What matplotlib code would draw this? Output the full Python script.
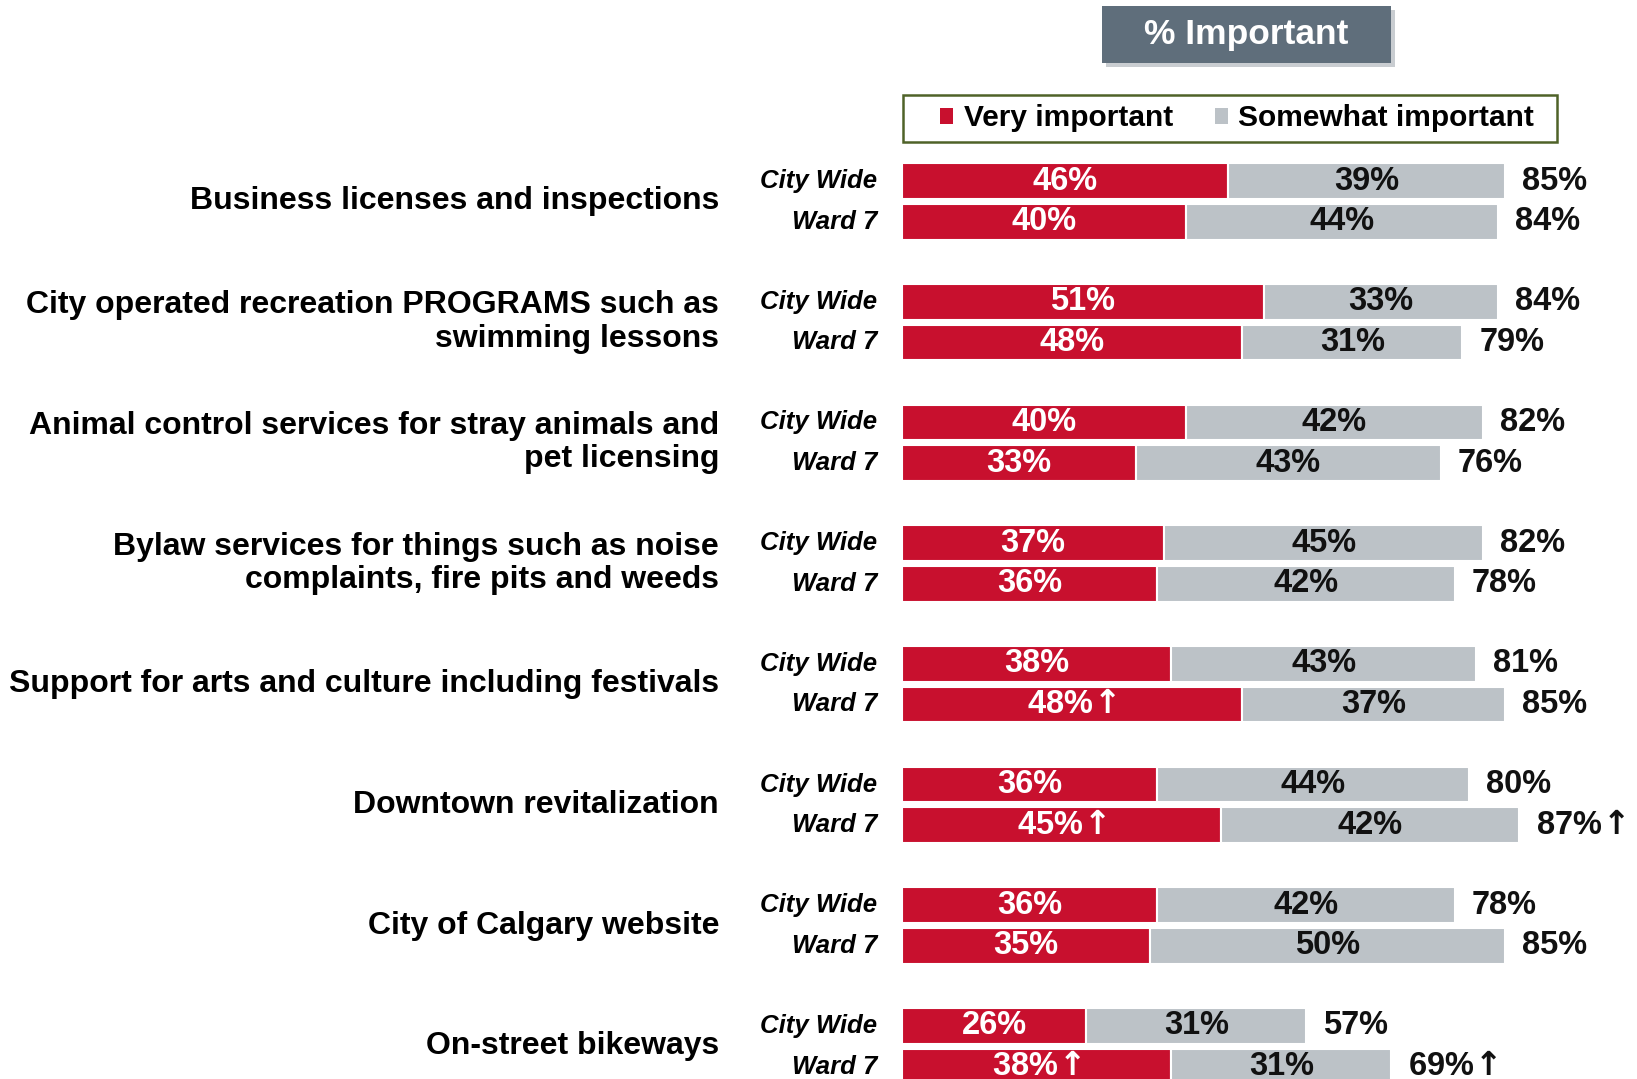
import matplotlib.pyplot as plt
from matplotlib.patches import FancyBboxPatch, Patch, Rectangle

plt.rcParams['font.family'] = ['Liberation Sans', 'DejaVu Sans']

# DATA
categories = [
    'Business licenses and inspections',
    'City operated recreation PROGRAMS such as\nswimming lessons',
    'Animal control services for stray animals and\npet licensing',
    'Bylaw services for things such as noise\ncomplaints, fire pits and weeds',
    'Support for arts and culture including festivals',
    'Downtown revitalization',
    'City of Calgary website',
    'On-street bikeways',
]
city_very = [46, 51, 40, 37, 38, 36, 36, 26]
city_some = [39, 33, 42, 45, 43, 44, 42, 31]
city_total = [85, 84, 82, 82, 81, 80, 78, 57]
ward_very = [40, 48, 33, 36, 48, 45, 35, 38]
ward_some = [44, 31, 43, 42, 37, 42, 50, 31]
ward_total = [84, 79, 76, 78, 85, 87, 85, 69]
ward_very_up = [False, False, False, False, True, True, False, True]
ward_total_up = [False, False, False, False, False, True, False, True]
row_names = ['City Wide', 'Ward 7']

RED = '#C8102E'
GRAY = '#BCC2C7'
UP = r'$\!{\mathbf{\uparrow}}$'

W, H = 1637, 1079
fig = plt.figure(figsize=(W / 100, H / 100), dpi=100)

# bars axes: x in percent, 100% ~ 709 px starting at x=902
ax = fig.add_axes([902 / W, 0, 709 / W, 1])
ax.set_xlim(0, 100)
ax.set_ylim(7.44, -1.5)
ax.axis('off')

off = 0.337   # gap between City Wide and Ward 7 rows
bh = 0.295
vsize = 23.5

rows = [
    (0.0, city_very, city_some, city_total, [False] * 8, [False] * 8),
    (off, ward_very, ward_some, ward_total, ward_very_up, ward_total_up),
]
for dy, very, some, total, vup, tup in rows:
    ys = [i + dy for i in range(len(categories))]
    ax.barh(ys, very, height=bh, color=RED, edgecolor='white', linewidth=1.5)
    ax.barh(ys, some, left=very, height=bh, color=GRAY, edgecolor='white', linewidth=1.5)
    for y, v, s, t, a, b in zip(ys, very, some, total, vup, tup):
        ax.text(v / 2, y, f'{v}%' + (UP if a else ''), ha='center', va='center',
                color='white', fontsize=vsize, fontweight='bold')
        ax.text(v + s / 2, y, f'{s}%', ha='center', va='center',
                color='#111111', fontsize=vsize, fontweight='bold')
        ax.text(v + s + 2.4, y, f'{t}%' + (UP if b else ''), ha='left', va='center',
                color='#111111', fontsize=vsize, fontweight='bold', clip_on=False)

# row names and category labels
for i, cat in enumerate(categories):
    for dy, name in zip([0.0, off], row_names):
        ax.text(-3.5, i + dy, name, ha='right', va='center', fontsize=18.5,
                fontweight='bold', fontstyle='italic', clip_on=False)
    ax.text(-25.8, i + off / 2, cat, ha='right', va='center', fontsize=23,
            fontweight='bold', linespacing=1.15, clip_on=False)

# title box with shadow
bx, by, bw, bhh = 1102, 6, 289, 57
shadow = FancyBboxPatch(((bx + 4) / W, 1 - (by + bhh + 4) / H), bw / W, bhh / H,
                        boxstyle='square,pad=0', transform=fig.transFigure,
                        facecolor='#c9cdd1', edgecolor='none', zorder=1)
box = FancyBboxPatch((bx / W, 1 - (by + bhh) / H), bw / W, bhh / H,
                     boxstyle='square,pad=0', transform=fig.transFigure,
                     facecolor='#5F6E7B', edgecolor='none', zorder=2)
fig.patches.extend([shadow, box])
fig.text((bx + bw / 2) / W, 1 - (by + bhh / 2) / H, '% Important', ha='center',
         va='center', color='white', fontsize=25.5, fontweight='bold', zorder=3)

# legend: frame drawn separately, entries centred inside it
lx, ly, lw, lh = 903, 95, 654, 47
fig.patches.append(Rectangle((lx / W, 1 - (ly + lh) / H), lw / W, lh / H,
                             transform=fig.transFigure, facecolor='white',
                             edgecolor='#4F6228', linewidth=1.8))
handles = [Patch(facecolor=RED, label='Very important'),
           Patch(facecolor=GRAY, label='Somewhat important')]
fig.legend(handles=handles, ncol=2, loc='center',
           bbox_to_anchor=((lx + lw / 2 + 7) / W, 1 - (ly + lh / 2) / H),
           frameon=False, handlelength=0.45, handleheight=0.45,
           handletextpad=0.35, columnspacing=1.4, borderpad=0,
           prop={'size': 21.5, 'weight': 'bold'})

fig.savefig('out.png', dpi=100)
